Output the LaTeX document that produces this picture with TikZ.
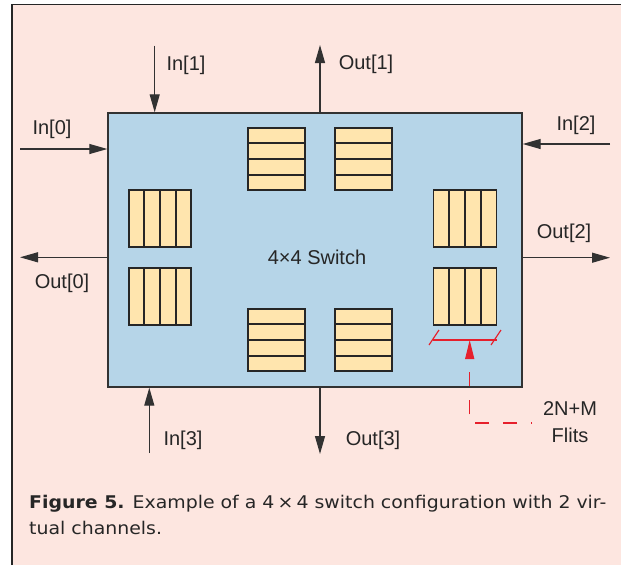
\documentclass[tikz,border=0pt]{standalone}
\usepackage{fontspec}
\setmainfont{Liberation Sans}
\newfontfamily\capfont{DejaVu Sans}
\usetikzlibrary{arrows.meta,calc}
\definecolor{bgpink}{RGB}{253,230,224}
\definecolor{boxblue}{RGB}{182,213,232}
\definecolor{bufyel}{RGB}{255,229,174}
\definecolor{linegrey}{RGB}{50,50,50}
\definecolor{annred}{RGB}{230,32,44}
\tikzset{
  lbl/.style={font=\fontsize{20}{24}\selectfont, text=black!85, inner sep=0pt},
  arr/.style={draw=linegrey, line width=1.2pt, -{Triangle[length=18pt,width=10pt]}},
  swbox/.style={draw=linegrey, fill=boxblue, line width=1.4pt, minimum width=414pt, minimum height=274pt, inner sep=0pt},
  hbuf/.style={draw=black!85, fill=bufyel, line width=1.4pt, minimum width=57pt, minimum height=62pt, inner sep=0pt},
  vbuf/.style={draw=black!85, fill=bufyel, line width=1.4pt, minimum width=63pt, minimum height=57pt, inner sep=0pt},
  sep/.style={draw=black!85, line width=1.5pt},
  ann/.style={draw=annred, line width=1.2pt},
  captxt/.style={anchor=base west, inner sep=0pt, font=\capfont\fontsize{17.5}{26}\selectfont, text=black!85},
}
\begin{document}
\begin{tikzpicture}[x=1pt,y=-1pt]
\useasboundingbox (0,0) rectangle (621,565);
\fill[bgpink] (12,4.5) rectangle (621,565);
\draw[line width=1.2pt, draw=black!85] (12,565) -- (12,4.5) -- (621,4.5);

% switch box
\node[swbox] (sw) at (315,250) {};
\node[lbl] (swl) at (317,257) {4×4 Switch};

% horizontal-row buffers
\node[hbuf] (t1) at (276.5,159) {};
\node[hbuf] (t2) at (363.5,159) {};
\node[hbuf] (b1) at (276.5,340) {};
\node[hbuf] (b2) at (363.5,340) {};
\foreach \b in {t1,t2,b1,b2}{
  \foreach \f in {0.25,0.5,0.75}{
    \draw[sep] ($(\b.north west)!\f!(\b.south west)$) -- ($(\b.north east)!\f!(\b.south east)$);
  }
}
% vertical-column buffers
\node[vbuf, minimum width=62pt] (l1) at (160,218.5) {};
\node[vbuf, minimum width=62pt] (l2) at (160,296.5) {};
\node[vbuf] (r1) at (465,218.5) {};
\node[vbuf] (r2) at (465,296.5) {};
\foreach \b in {l1,l2,r1,r2}{
  \foreach \f in {0.25,0.5,0.75}{
    \draw[sep] ($(\b.north west)!\f!(\b.north east)$) -- ($(\b.south west)!\f!(\b.south east)$);
  }
}

% free ends of the ports
\coordinate (in1) at (154.7,45.7);
\coordinate (out1) at (320,45);
\coordinate (in0) at (20,149);
\coordinate (out0) at (20,257.3);
\coordinate (in2) at (610,144);
\coordinate (out2) at (610,257.7);
\coordinate (in3) at (149.3,453);
\coordinate (out3) at (320,454);

\draw[arr] (in1) -- (in1 |- sw.north);
\draw[arr] (out1 |- sw.north) -- (out1);
\draw[arr] (in0) -- (in0 -| sw.west);
\draw[arr] (out0 -| sw.west) -- (out0);
\draw[arr] (in2) -- (in2 -| sw.east);
\draw[arr] (out2 -| sw.east) -- (out2);
\draw[arr] (in3) -- (in3 |- sw.south);
\draw[arr] (out3 |- sw.south) -- (out3);

\node[lbl] (lin1) at (186,65) {In[1]};
\node[lbl] (lout1) at (366,64) {Out[1]};
\node[lbl] (lin0) at (52,129) {In[0]};
\node[lbl] (lout0) at (62,283) {Out[0]};
\node[lbl] (lin2) at (576,125) {In[2]};
\node[lbl] (lout2) at (564,233) {Out[2]};
\node[lbl] (lin3) at (183,440) {In[3]};
\node[lbl] (lout3) at (373,440) {Out[3]};

% red annotation
\coordinate (barL) at (433,340);
\coordinate (barR) at (497,340);
\coordinate (barM) at (469.7,340);
\coordinate (corner) at (469.7,423);
\coordinate (fend) at (532,423);
\draw[ann] (barL) -- (barR);
\draw[ann] ($(barL)+(-4,5)$) -- ($(barL)+(6,-10)$);
\draw[ann] ($(barR)+(-6,5)$) -- ($(barR)+(4,-10)$);
\draw[ann, dash pattern=on 14pt off 14pt, dash phase=13pt, -{Triangle[length=19pt,width=9pt]}] (fend) -- (corner) -- (barM);
\node[lbl, align=center, font=\fontsize{20}{27}\selectfont] (flits) at (570,422.5) {2N+M\\Flits};

% caption
\node[captxt] (cap1) at (29,508.3) {\scalebox{1.08}[1]{\textbf{Figure 5.} Example of a 4\,×\,4 switch configuration with 2 vir-}};
\node[captxt] (cap2) at (29,534) {\scalebox{1.08}[1]{tual channels.}};
\end{tikzpicture}
\end{document}
